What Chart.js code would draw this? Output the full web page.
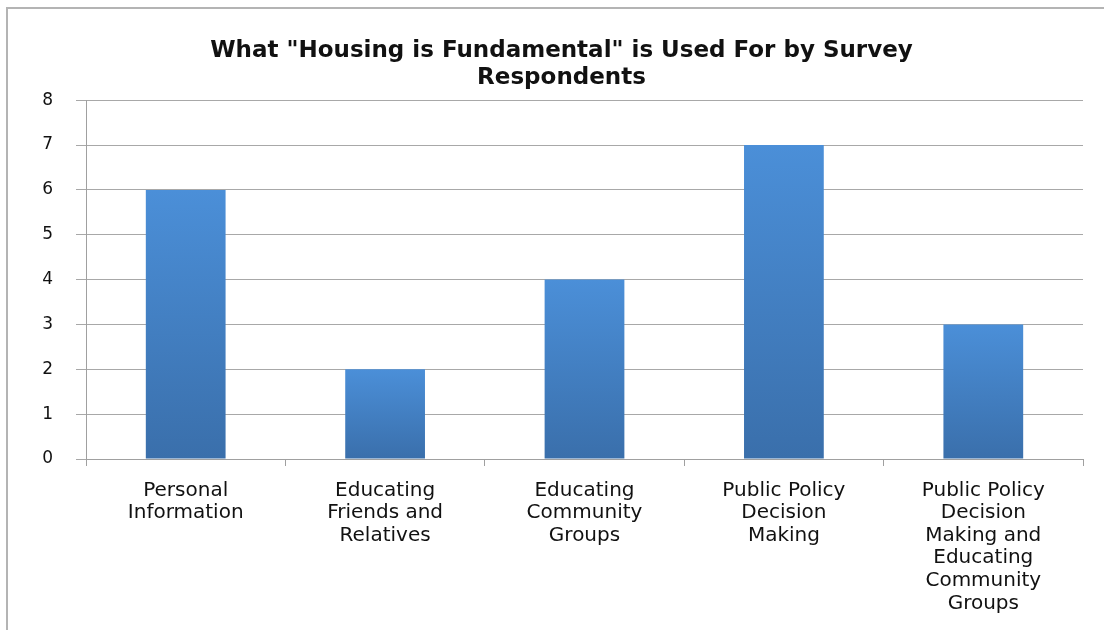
<!DOCTYPE html>
<html>
<head>
<meta charset="utf-8">
<script src="https://cdn.jsdelivr.net/npm/chart.js@4/dist/chart.umd.min.js"></script>
<style>
  html, body { margin: 0; padding: 0; background: #fff; }
  #wrap { position: relative; width: 1104px; height: 630px; }
</style>
</head>
<body>
<div id="wrap"><canvas id="usageChart" width="1104" height="630"></canvas></div>
<script>
var categories = [
  ["Personal", "Information"],
  ["Educating", "Friends and", "Relatives"],
  ["Educating", "Community", "Groups"],
  ["Public Policy", "Decision", "Making"],
  ["Public Policy", "Decision", "Making and", "Educating", "Community", "Groups"]
];
var respondents = [6, 2, 4, 7, 3];
var yTicks = [0, 1, 2, 3, 4, 5, 6, 7, 8];

// frame lines of the original picture (top and left edge)
var framePlugin = {
  id: 'frame',
  beforeDraw: function (chart) {
    var ctx = chart.ctx;
    ctx.save();
    ctx.strokeStyle = '#b4b4b4';
    ctx.lineWidth = 2;
    ctx.beginPath();
    ctx.moveTo(7, 630);
    ctx.lineTo(7, 8);
    ctx.lineTo(1104, 8);
    ctx.stroke();
    ctx.restore();
  }
};

// blue gradient per bar, lighter at the top
var barFill = function (context) {
  var chart = context.chart;
  var area = chart.chartArea;
  if (!area || !chart.scales.y) return '#4a88cc';
  var top = chart.scales.y.getPixelForValue(context.raw);
  var bottom = chart.scales.y.getPixelForValue(0);
  var g = chart.ctx.createLinearGradient(0, top, 0, bottom);
  g.addColorStop(0, '#4b8fd8');
  g.addColorStop(1, '#3a6fab');
  return g;
};

var usageChart = new Chart(document.getElementById('usageChart'), {
  type: 'bar',
  plugins: [framePlugin],
  data: {
    labels: categories,
    datasets: [{
      data: respondents,
      backgroundColor: barFill,
      borderWidth: 0,
      categoryPercentage: 1,
      barPercentage: 0.4
    }]
  },
  options: {
    responsive: false,
    animation: false,
    layout: {
      padding: { left: 40, right: 21, top: 37, bottom: 4 }
    },
    plugins: {
      legend: { display: false },
      tooltip: { enabled: false },
      title: {
        display: true,
        text: ['What "Housing is Fundamental" is Used For by Survey', 'Respondents'],
        color: '#111',
        font: { family: 'DejaVu Sans', size: 23, weight: 'bold', lineHeight: 1.2 },
        padding: { top: 0, bottom: 8 }
      }
    },
    scales: {
      x: {
        offset: true,
        afterFit: function (scale) {
          scale.paddingLeft = 0;
          scale.paddingRight = 0;
          scale.height = 167;
        },
        grid: {
          offset: true,
          drawOnChartArea: false,
          drawTicks: true,
          tickLength: 7,
          color: '#a0a0a0'
        },
        border: { color: '#a0a0a0', width: 1 },
        ticks: {
          color: '#111',
          maxRotation: 0,
          autoSkip: false,
          padding: 13,
          font: { family: 'DejaVu Sans', size: 20, lineHeight: 1.13 }
        }
      },
      y: {
        min: 0,
        max: 8,
        afterBuildTicks: function (axis) {
          axis.ticks = yTicks.map(function (v) { return { value: v }; });
        },
        afterFit: function (scale) {
          scale.width = 46;
        },
        grid: {
          color: '#a8a8a8',
          lineWidth: 1,
          tickLength: 10
        },
        border: { color: '#a0a0a0', width: 1 },
        ticks: {
          color: '#111',
          padding: 23,
          font: { family: 'DejaVu Sans', size: 17 }
        }
      }
    }
  }
});
</script>
</body>
</html>
